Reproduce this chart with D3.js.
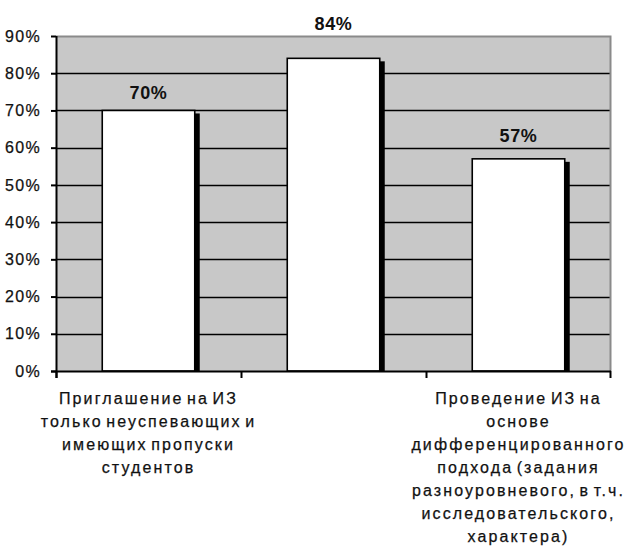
<!DOCTYPE html>
<html>
<head>
<meta charset="utf-8">
<script src="https://cdn.jsdelivr.net/npm/d3@7"></script>
<style>
  html, body { margin: 0; padding: 0; background: #fff; }
  svg { display: block; font-family: Arial, "Liberation Sans", sans-serif; }
</style>
</head>
<body>
<svg id="chart" width="627" height="546"></svg>
<script>
// Share of respondents per approach (%)
const categories = [
  ["Приглашение на ИЗ", "только неуспевающих и", "имеющих пропуски", "студентов"],
  [],
  ["Проведение ИЗ на", "основе", "дифференцированного", "подхода (задания", "разноуровневого, в т.ч.", "исследовательского,", "характера)"]
];
const values = [70, 84, 57];
const valueLabels = ["70%", "84%", "57%"];
const yTicks = [0, 10, 20, 30, 40, 50, 60, 70, 80, 90];

const svg = d3.select("#chart");
const plot = { left: 56, right: 611, top: 36, bottom: 371 };
const labelGap = [11, 28, 17];

const x = d3.scaleBand()
  .domain(d3.range(categories.length))
  .range([plot.left, plot.right])
  .paddingInner(0).paddingOuter(0);
const y = d3.scaleLinear().domain([0, 90]).range([plot.bottom, plot.top]);

// plot background
svg.append("rect")
  .attr("x", plot.left).attr("y", plot.top)
  .attr("width", plot.right - plot.left).attr("height", plot.bottom - plot.top)
  .attr("fill", "#c8c8c8");

// gridlines
svg.append("g").selectAll("line")
  .data(yTicks.filter(t => t > 0 && t < 90))
  .join("line")
  .attr("x1", plot.left).attr("x2", plot.right)
  .attr("y1", d => Math.round(y(d)) + 0.5).attr("y2", d => Math.round(y(d)) + 0.5)
  .attr("stroke", "#000").attr("stroke-width", 1.6);

// top and right frame
svg.append("path")
  .attr("d", `M${plot.left},${plot.top + 0.5}H${plot.right - 0.5}V${plot.bottom}`)
  .attr("fill", "none").attr("stroke", "#8a8a8a").attr("stroke-width", 2);

// bars with drop shadow
const barW = x.bandwidth() * 0.5;
const bars = svg.append("g").selectAll("g").data(values).join("g");
bars.append("rect")
  .attr("x", (d, i) => x(i) + (x.bandwidth() - barW) / 2 + barW)
  .attr("y", d => y(d) + 3)
  .attr("width", 5)
  .attr("height", d => plot.bottom - y(d) - 3)
  .attr("fill", "#000");
bars.append("rect")
  .attr("x", (d, i) => x(i) + (x.bandwidth() - barW) / 2)
  .attr("y", d => y(d))
  .attr("width", barW)
  .attr("height", d => plot.bottom - y(d))
  .attr("fill", "#fff")
  .attr("stroke", "#000").attr("stroke-width", 1.6);

// value labels
svg.append("g").selectAll("text").data(values).join("text")
  .attr("x", (d, i) => x(i) + x.bandwidth() / 2)
  .attr("y", (d, i) => y(d) - labelGap[i])
  .attr("text-anchor", "middle")
  .attr("font-size", 18).attr("font-weight", "bold")
  .attr("letter-spacing", 0.6)
  .attr("fill", "#111")
  .text((d, i) => valueLabels[i]);

// y axis
const yAxis = svg.append("g")
  .attr("transform", `translate(${plot.left},0)`)
  .call(d3.axisLeft(y).tickValues(yTicks).tickFormat(d => d + "%").tickSize(5).tickPadding(10));
yAxis.select(".domain").attr("stroke", "#000").attr("stroke-width", 2)
  .attr("d", `M0.5,${plot.top}V${plot.bottom + 7}`);
yAxis.selectAll(".tick line").attr("stroke", "#000").attr("stroke-width", 2);
yAxis.selectAll(".tick text")
  .attr("font-size", 16).attr("letter-spacing", 1.3)
  .attr("fill", "#111").attr("stroke", "#111").attr("stroke-width", 0.25)
  .attr("font-family", "Arial, 'Liberation Sans', sans-serif");

// x axis baseline with category separators
svg.append("line")
  .attr("x1", plot.left - 5).attr("x2", plot.right)
  .attr("y1", plot.bottom + 0.5).attr("y2", plot.bottom + 0.5)
  .attr("stroke", "#000").attr("stroke-width", 2);
svg.append("g").selectAll("line")
  .data(d3.range(categories.length + 1))
  .join("line")
  .attr("x1", i => i < categories.length ? x(i) + 0.5 : plot.right - 0.5)
  .attr("x2", i => i < categories.length ? x(i) + 0.5 : plot.right - 0.5)
  .attr("y1", plot.bottom).attr("y2", plot.bottom + 7)
  .attr("stroke", "#000").attr("stroke-width", 2);

// category labels
const catG = svg.append("g").selectAll("text").data(categories).join("text")
  .attr("text-anchor", "middle")
  .attr("font-size", 16)
  .attr("letter-spacing", 2.1)
  .attr("word-spacing", -3)
  .attr("fill", "#111").attr("stroke", "#111").attr("stroke-width", 0.25);
catG.selectAll("tspan").data((d, i) => d.map(line => ({ line, i }))).join("tspan")
  .attr("x", d => x(d.i) + x.bandwidth() / 2)
  .attr("y", (d, j) => 404 + j * 23)
  .text(d => d.line);
</script>
</body>
</html>
